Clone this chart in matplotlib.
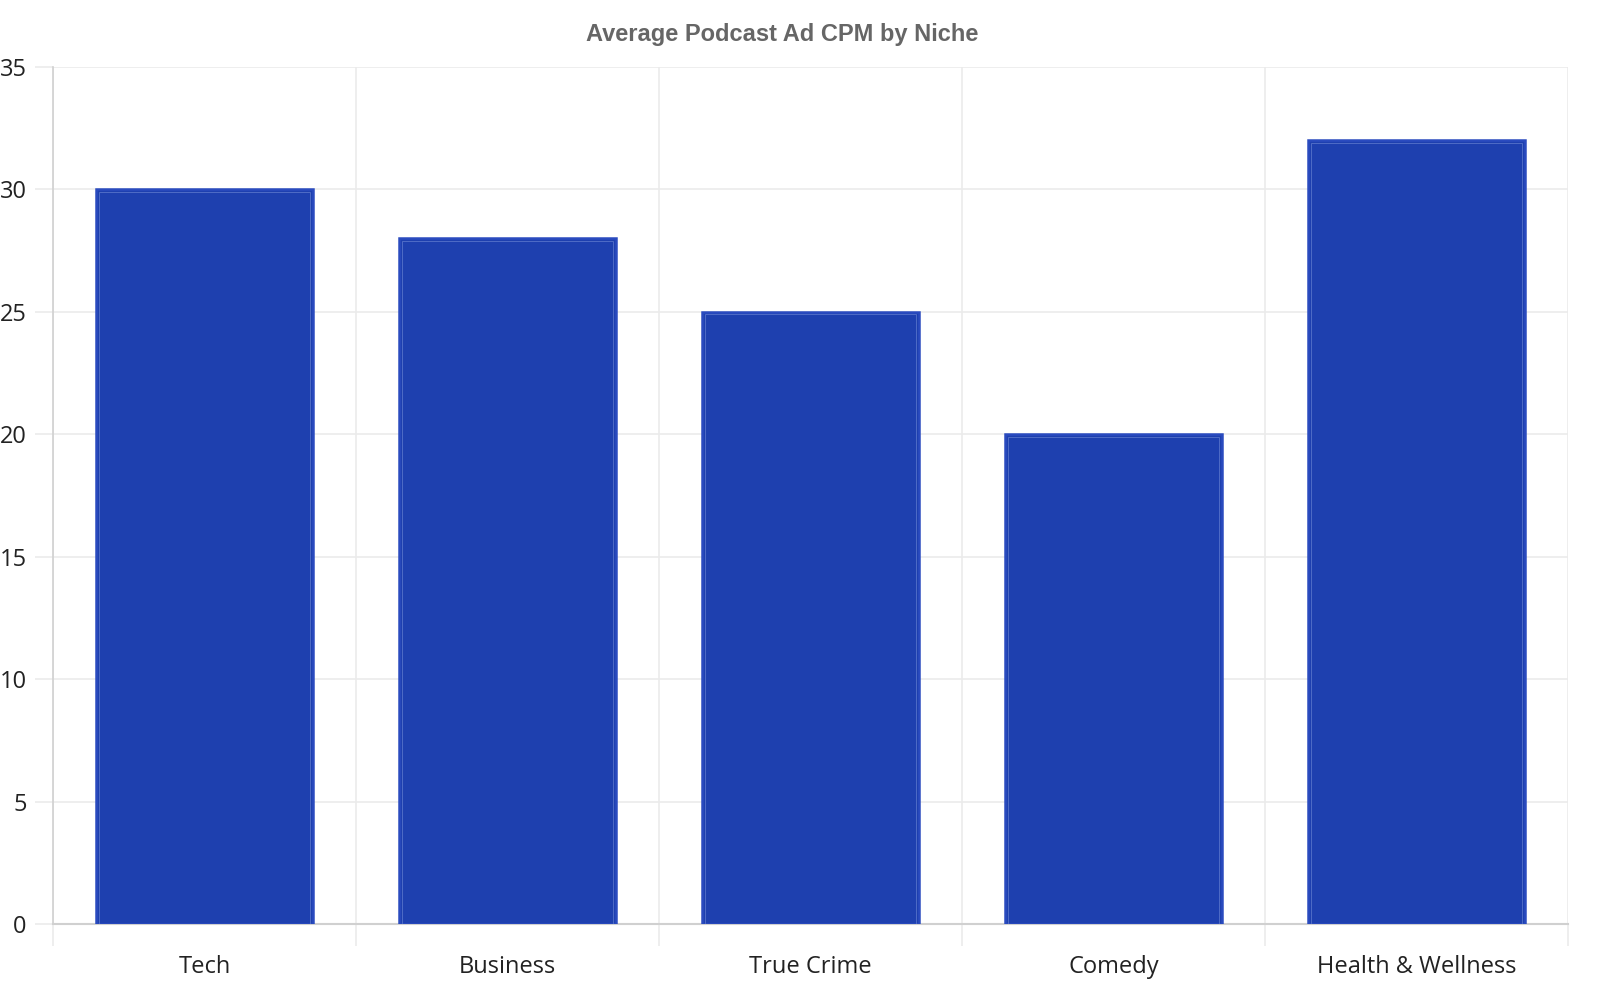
import matplotlib
matplotlib.use("Agg")
import matplotlib.pyplot as plt
import numpy as np

# data
niches = ["Tech", "Business", "True Crime", "Comedy", "Health & Wellness"]
cpm = [30, 28, 25, 20, 32]
y_ticks = [0, 5, 10, 15, 20, 25, 30, 35]

bar_color = "#1e40af"
edge_color = "#2a4bbf"
inner_color = "#4f6cc6"
grid_color = "#ebebeb"
axis_color = "#d0d0d0"

plt.rcParams["font.family"] = ["Open Sans", "DejaVu Sans"]

fig = plt.figure(figsize=(16, 10), dpi=100)
ax = fig.add_axes([53 / 1600, 1 - 924 / 1000, (1568 - 53) / 1600, (924 - 67) / 1000])

x = np.arange(len(niches))
ax.bar(x, cpm, width=0.716, color=bar_color, edgecolor=edge_color, linewidth=1.8, zorder=3)

# thin lighter line just inside each bar edge
inner = ax.bar(x, cpm, width=0.716, color="none", edgecolor=inner_color, linewidth=0.7, zorder=4)
for p in inner.patches:
    p.set_x(p.get_x() + 0.01)
    p.set_width(p.get_width() - 0.02)
    p.set_height(p.get_height() - 0.1)

ax.set_xlim(-0.5, len(niches) - 0.5)
ax.set_ylim(0, 35)

ax.set_xticks(x)
ax.set_xticklabels(niches)
ax.set_xticks(np.arange(len(niches) + 1) - 0.5, minor=True)
ax.tick_params(axis="x", which="major", length=0, pad=22, labelsize=17, labelcolor="#222222")
ax.tick_params(axis="x", which="minor", length=16, width=1.2, color=grid_color)
ax.set_yticks(y_ticks)
ax.tick_params(axis="y", length=13, width=1.2, color=grid_color, pad=6, labelsize=17, labelcolor="#222222")

ax.grid(axis="x", which="minor", color=grid_color, linewidth=1.2, zorder=0)
ax.grid(axis="y", which="major", color=grid_color, linewidth=1.2, zorder=0)
ax.set_axisbelow(True)

for s in ["top", "right"]:
    ax.spines[s].set_visible(False)
ax.spines["left"].set_color(axis_color)
ax.spines["bottom"].set_color(axis_color)
ax.spines["left"].set_linewidth(1.2)
ax.spines["bottom"].set_linewidth(1.5)

fig.text(0.489, 0.966, "Average Podcast Ad CPM by Niche", ha="center", va="center",
         fontsize=17, fontweight="bold", color="#666666", family=["Liberation Sans", "DejaVu Sans"])

fig.savefig("out.png", dpi=100)
